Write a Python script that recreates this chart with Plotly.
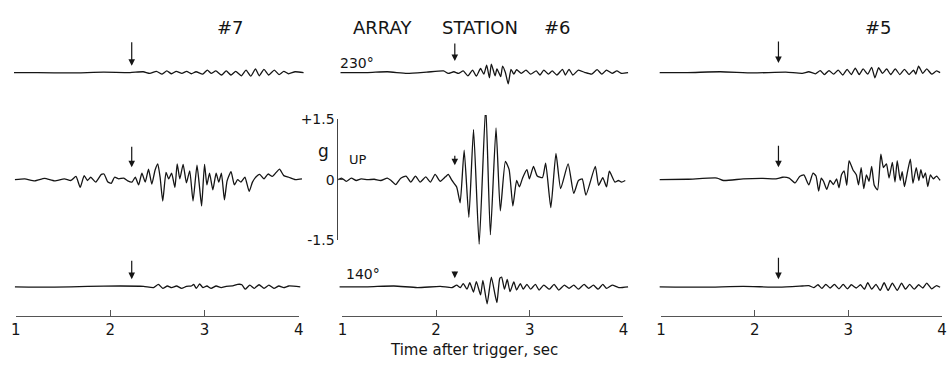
import plotly.graph_objects as go

# ---------------------------------------------------------------
# Accelerograms, three array stations (#7, #6, #5), three components
# each: horizontal 230 deg, vertical (UP), horizontal 140 deg.
# Times in seconds after trigger, amplitudes in g.
# ---------------------------------------------------------------

stations = ["#7", "#6", "#5"]
components = ["230°", "UP", "140°"]
time_ticks = [1, 2, 3, 4]
time_tick_labels = ["1", "2", "3", "4"]
amp_ticks = [-1.5, 0, 1.5]
amp_tick_labels = ["-1.5", "0", "+1.5"]

# arrival picks (s)
arrival = [2.228, 2.20, 2.254]

# ---- station #7 ----
st7_230_t = [0.98, 1.23, 1.58, 1.93, 2.21, 2.35, 2.42, 2.49, 2.55, 2.60,
             2.65, 2.70, 2.76, 2.81, 2.86, 2.91, 2.98, 3.03, 3.07, 3.12,
             3.18, 3.23, 3.28, 3.33, 3.39, 3.44, 3.49, 3.54, 3.58, 3.63,
             3.68, 3.74, 3.79, 3.84, 3.89, 3.96, 4.05]
st7_230_g = [0, 0, -0.01, 0.01, 0, 0.02, -0.02, 0.03, -0.04, 0.04,
             -0.03, 0.03, -0.02, 0.03, -0.03, 0.02, -0.04, 0.06, -0.02, 0.04,
             -0.06, 0.04, -0.06, 0.03, -0.08, 0.06, -0.09, 0.09, -0.08, 0.08,
             -0.06, 0.06, -0.05, 0.03, -0.03, 0.02, 0]

st7_up_t = [0.99, 1.094, 1.20, 1.304, 1.41, 1.514, 1.584, 1.637, 1.682, 1.724,
            1.759, 1.794, 1.847, 1.906, 1.934, 1.976, 2.011, 2.046, 2.091, 2.144,
            2.186, 2.231, 2.266, 2.301, 2.336, 2.371, 2.406, 2.441, 2.476, 2.504,
            2.529, 2.557, 2.592, 2.62, 2.651, 2.686, 2.71, 2.738, 2.773, 2.808,
            2.843, 2.878, 2.92, 2.948, 2.969, 3.0, 3.025, 3.053, 3.088, 3.123,
            3.151, 3.179, 3.211, 3.239, 3.281, 3.316, 3.351, 3.386, 3.428, 3.473,
            3.508, 3.55, 3.585, 3.631, 3.673, 3.718, 3.76, 3.795, 3.84, 3.893,
            3.963, 4.033]
st7_up_g = [0, 0.02, -0.03, 0.03, -0.03, 0.02, -0.02, 0.08, -0.19, 0.10,
            -0.02, 0.06, -0.06, 0.13, 0.14, -0.06, -0.09, 0.06, 0.02, 0.04,
            -0.03, -0.06, 0.06, -0.13, 0.16, -0.06, 0.26, -0.11, 0.24, 0.39,
            0.06, -0.53, 0.18, 0.02, 0.16, -0.19, 0.39, 0.02, 0.38, -0.08,
            0.22, -0.53, 0.36, -0.21, -0.65, 0.38, -0.13, 0.16, -0.25, 0.16,
            -0.06, 0.16, -0.50, -0.03, 0.20, -0.13, 0, -0.06, 0.06, -0.29,
            -0.06, 0.08, 0.13, 0.02, 0.14, 0.08, 0.18, 0.26, 0.10, 0.06,
            0, 0.02]

st7_140_t = [0.99, 1.41, 1.759, 2.109, 2.354, 2.459, 2.511, 2.557, 2.606, 2.651,
             2.703, 2.756, 2.808, 2.861, 2.885, 2.913, 2.948, 2.983, 3.025, 3.07,
             3.123, 3.176, 3.228, 3.298, 3.351, 3.396, 3.431, 3.48, 3.526, 3.578,
             3.631, 3.683, 3.736, 3.788, 3.84, 3.893, 4.015]
st7_140_g = [0, -0.01, 0.01, 0.02, 0.01, -0.02, 0.06, -0.04, 0.02, -0.02,
             0.02, -0.04, 0.01, 0.02, 0.06, -0.04, 0.07, -0.02, 0.02, -0.04,
             0.02, -0.02, 0.01, 0.02, 0.06, 0.05, -0.06, 0.04, -0.04, 0.05,
             -0.04, 0.04, -0.04, 0.02, -0.02, 0.02, 0]

# ---- station #6 ----
st6_230_t = [0.98, 1.27, 1.48, 1.69, 1.90, 2.08, 2.13, 2.19, 2.24, 2.29,
             2.34, 2.39, 2.43, 2.475, 2.51, 2.54, 2.57, 2.59, 2.63, 2.65,
             2.69, 2.71, 2.74, 2.77, 2.80, 2.83, 2.86, 2.91, 2.96, 3.01,
             3.07, 3.11, 3.15, 3.20, 3.24, 3.29, 3.35, 3.38, 3.42, 3.46,
             3.52, 3.59, 3.66, 3.72, 3.77, 3.82, 3.88, 3.93, 3.98, 4.05]
st6_230_g = [0, 0, 0.02, -0.02, 0.01, 0.04, -0.02, 0.02, -0.02, 0.04,
             -0.08, 0.06, -0.09, 0.10, -0.04, 0.18, -0.13, 0.21, -0.08, 0.09,
             -0.10, 0.16, 0, -0.28, 0.08, -0.04, 0.07, -0.02, 0.06, -0.04,
             0.04, -0.06, 0.06, -0.04, 0.04, -0.06, 0.08, -0.06, 0.08, -0.06,
             0.06, 0, -0.04, 0.07, -0.04, 0.06, -0.02, 0.04, -0.02, 0]

st6_up_t = [0.955, 0.99, 1.042, 1.095, 1.148, 1.20, 1.27, 1.34, 1.41, 1.48,
            1.52, 1.57, 1.62, 1.68, 1.73, 1.78, 1.83, 1.89, 1.94, 1.99,
            2.045, 2.10, 2.13, 2.17, 2.22, 2.257, 2.30, 2.35, 2.40, 2.46,
            2.53, 2.58, 2.64, 2.686, 2.74, 2.78, 2.82, 2.86, 2.89, 2.925,
            2.97, 2.996, 3.04, 3.08, 3.136, 3.17, 3.225, 3.28, 3.33, 3.41,
            3.47, 3.52, 3.56, 3.60, 3.70, 3.735, 3.78, 3.82, 3.85, 3.91,
            3.946, 3.98, 4.02]
st6_up_g = [0, 0.04, -0.04, 0.04, -0.02, 0.02, 0, 0.01, -0.02, 0.04,
            -0.02, -0.12, 0.03, 0.09, -0.06, 0.09, -0.06, 0.07, -0.06, 0.13,
            -0.04, 0.07, 0.13, -0.02, -0.18, -0.57, 0.73, -0.93, 1.24, -1.60,
            1.83, -1.36, 1.28, -0.77, 0.45, 0.25, -0.65, -0.02, -0.18, 0.05,
            0.25, 0.02, 0.33, 0.09, 0.05, 0.41, -0.69, 0.65, -0.22, 0.39,
            -0.34, -0.02, 0.02, -0.38, 0.33, -0.14, 0.05, -0.18, 0.21, -0.06,
            -0.02, -0.06, -0.02]

st6_140_t = [0.97, 1.27, 1.55, 1.80, 2.045, 2.17, 2.22, 2.26, 2.29, 2.33,
             2.36, 2.40, 2.43, 2.475, 2.50, 2.545, 2.59, 2.63, 2.65, 2.68,
             2.70, 2.73, 2.76, 2.79, 2.83, 2.86, 2.90, 2.93, 2.97, 3.01,
             3.06, 3.10, 3.15, 3.21, 3.26, 3.31, 3.37, 3.42, 3.47, 3.52,
             3.58, 3.63, 3.68, 3.73, 3.78, 3.82, 3.88, 3.95, 4.05]
st6_140_g = [0, 0, 0.02, -0.02, 0.01, -0.02, 0.04, -0.02, 0.08, -0.06,
             0.10, -0.13, 0.13, -0.20, 0.16, -0.42, 0.24, -0.20, -0.39, 0.21,
             0.24, -0.06, 0.18, -0.12, 0.12, -0.08, 0.08, -0.06, 0.06, -0.06,
             0.06, -0.08, 0.04, -0.06, 0.06, -0.08, 0.04, -0.04, 0.04, -0.06,
             0.06, -0.04, 0.04, -0.06, 0.06, -0.04, 0.04, -0.02, 0]

# ---- station #5 ----
st5_230_t = [0.986, 1.283, 1.633, 1.983, 2.333, 2.508, 2.578, 2.648, 2.70, 2.745,
             2.794, 2.843, 2.892, 2.941, 2.987, 3.032, 3.074, 3.116, 3.158, 3.207,
             3.249, 3.284, 3.323, 3.365, 3.41, 3.452, 3.501, 3.55, 3.599, 3.648,
             3.697, 3.72, 3.75, 3.795, 3.837, 3.89, 3.942, 3.98]
st5_230_g = [0, 0, 0.02, -0.01, 0.01, -0.02, 0.02, -0.03, 0.05, -0.05,
             0.05, -0.04, 0.06, -0.06, 0.08, -0.05, 0.11, -0.05, 0.09, -0.04,
             0.13, -0.13, 0.12, -0.02, 0.09, -0.05, 0.09, -0.05, 0.08, -0.05,
             0.06, -0.04, 0.16, -0.02, 0.09, -0.04, 0.04, 0]

st5_up_t = [0.986, 1.283, 1.598, 1.668, 1.878, 2.088, 2.228, 2.298, 2.368, 2.431,
            2.48, 2.525, 2.578, 2.623, 2.655, 2.683, 2.711, 2.735, 2.77, 2.805,
            2.84, 2.875, 2.9, 2.927, 2.955, 2.983, 3.008, 3.05, 3.085, 3.109,
            3.137, 3.165, 3.193, 3.221, 3.249, 3.277, 3.312, 3.347, 3.375, 3.407,
            3.435, 3.47, 3.498, 3.522, 3.554, 3.575, 3.599, 3.627, 3.662, 3.69,
            3.725, 3.753, 3.774, 3.798, 3.823, 3.848, 3.876, 3.907, 3.942, 3.98]
st5_up_g = [0, 0.01, 0.04, -0.02, 0.02, 0.03, 0.02, 0.06, 0.04, -0.08,
            0.08, 0.12, -0.13, 0.16, 0.09, -0.28, 0.04, -0.04, -0.24, -0.02,
            -0.12, 0.02, -0.20, 0.12, 0.22, -0.14, 0.47, 0.24, 0.12, -0.13,
            0.30, -0.22, 0.12, -0.04, 0.33, -0.14, -0.25, 0.63, 0.30, 0.39,
            0.04, 0.43, -0.06, 0.47, -0.02, 0.20, -0.17, 0.14, 0.51, -0.09,
            0.30, -0.02, 0.25, 0.04, 0.17, -0.17, 0.12, 0.02, 0.09, -0.02]

st5_140_t = [0.986, 1.458, 1.878, 2.263, 2.508, 2.578, 2.63, 2.676, 2.718, 2.76,
             2.805, 2.851, 2.9, 2.945, 2.99, 3.032, 3.085, 3.13, 3.172, 3.207,
             3.249, 3.295, 3.34, 3.382, 3.424, 3.47, 3.522, 3.568, 3.61, 3.655,
             3.704, 3.75, 3.795, 3.837, 3.89, 3.942, 3.98]
st5_140_g = [0, -0.01, 0.01, -0.01, 0.02, 0.03, -0.02, 0.05, -0.04, 0.06,
             -0.03, 0.06, -0.05, 0.06, -0.05, 0.05, -0.03, 0.05, -0.06, 0.10,
             -0.06, 0.06, -0.09, 0.10, -0.09, 0.09, -0.09, 0.09, -0.06, 0.06,
             -0.06, 0.05, -0.03, 0.09, -0.05, 0.03, -0.01]

records = [
    [(st7_230_t, st7_230_g), (st7_up_t, st7_up_g), (st7_140_t, st7_140_g)],
    [(st6_230_t, st6_230_g), (st6_up_t, st6_up_g), (st6_140_t, st6_140_g)],
    [(st5_230_t, st5_230_g), (st5_up_t, st5_up_g), (st5_140_t, st5_140_g)],
]

# ---------------------------------------------------------------
# page geometry (pixels)
# ---------------------------------------------------------------
W, H = 947, 367
PX_PER_G = 42.3
col_span = [(11, 297), (341, 625), (663, 947)]   # 1 s .. 4 s
row_base = [67.5, 179.5, 291.5]                   # zero line of each row
row_half = [1.0, 1.6, 1.0]                        # half range (g) of each row axis
time_axis_y = 322
pad = 8

INK = "#151515"
FONT = "DejaVu Sans"


def px_x(v):
    return v / W


def px_y(v):
    return 1 - v / H


fig = go.Figure()
layout = dict(
    width=W, height=H,
    margin=dict(l=0, r=0, t=0, b=0),
    paper_bgcolor="white", plot_bgcolor="rgba(0,0,0,0)",
    showlegend=False,
    font=dict(family=FONT, color=INK),
)

hidden = dict(visible=False, showgrid=False, zeroline=False, anchor="free")

# data axes (one time axis per station, one amplitude axis per component row)
for c, (x0, x1) in enumerate(col_span):
    s = (x1 - x0) / 3.0
    right = min(x1 + pad, W)
    layout[f"xaxis{c + 1}"] = dict(
        hidden, domain=[px_x(x0 - pad), px_x(right)],
        range=[1 - pad / s, 4 + (right - x1) / s], position=0)
    # visible time scale under each station
    layout[f"xaxis{c + 4}"] = dict(
        domain=[px_x(x0), px_x(x1)], range=[1, 4], anchor="free",
        position=px_y(time_axis_y), showline=True, linecolor="#555",
        linewidth=1, ticks="inside", ticklen=6, tickcolor="#555",
        tickvals=time_ticks, ticktext=time_tick_labels,
        ticklabeloverflow="allow",
        tickfont=dict(size=15, color=INK), showgrid=False, zeroline=False)

for r in range(3):
    h = row_half[r]
    b = row_base[r]
    layout[f"yaxis{r + 1}"] = dict(
        hidden, domain=[px_y(b + h * PX_PER_G), px_y(b - h * PX_PER_G)],
        range=[-h, h], position=0)

# amplitude scale beside the vertical record of station #6
layout["yaxis4"] = dict(
    domain=[px_y(row_base[1] + 1.5 * PX_PER_G), px_y(row_base[1] - 1.5 * PX_PER_G)],
    range=[-1.5, 1.5], anchor="free", position=px_x(336),
    showline=True, linecolor="#444", linewidth=1,
    ticks="inside", ticklen=5, tickcolor="#444",
    tickvals=amp_ticks, ticktext=amp_tick_labels,
    tickfont=dict(size=14, color=INK), showgrid=False, zeroline=False)

for c in range(3):
    for r in range(3):
        t, g = records[c][r]
        fig.add_trace(go.Scatter(
            x=t, y=g, mode="lines", xaxis=f"x{c + 1}", yaxis=f"y{r + 1}",
            line=dict(color=INK, width=1.3, shape="spline", smoothing=0.5),
            hoverinfo="skip"))
    # carrier for the time scale axis
    fig.add_trace(go.Scatter(x=[None], y=[None], xaxis=f"x{c + 4}", yaxis="y3",
                             mode="lines", hoverinfo="skip"))
fig.add_trace(go.Scatter(x=[None], y=[None], xaxis="x2", yaxis="y4",
                         mode="lines", hoverinfo="skip"))

ann = []


def label(text, x, y, size, **kw):
    ann.append(dict(text=text, x=px_x(x), y=px_y(y), xref="paper", yref="paper",
                    showarrow=False, font=dict(size=size, color=INK, family=FONT),
                    xanchor="center", yanchor="middle", **kw))


# station headings
label("#7", 228, 20, 18)
label("ARRAY", 382, 20, 18)
label("STATION", 480, 20, 18)
label(stations[1], 558, 20, 18)
label(stations[2], 883, 20, 18)

# component labels on station #6
label(components[0], 356, 57, 14)
label(components[2], 362, 278, 14)
label("g", 322, 149, 17)
label(components[1], 357, 158, 13)

label("Time after trigger, sec", 474, 358, 15)

# arrival arrows: (tip height above zero line, shaft length) in px
arrow_geom = [
    [(7, 25), (13, 22), (8, 20)],
    [(12, 19), (15, 11), (9, 8)],
    [(10, 23), (13, 23), (8, 23)],
]
for c in range(3):
    for r in range(3):
        tip, length = arrow_geom[c][r]
        ann.append(dict(
            text="", x=arrival[c], y=tip / PX_PER_G,
            xref=f"x{c + 1}", yref=f"y{r + 1}",
            showarrow=True, ax=0, ay=-length, axref="pixel", ayref="pixel",
            arrowhead=2, arrowsize=1.1, arrowwidth=1.2, arrowcolor=INK,
            standoff=0))

layout["annotations"] = ann
fig.update_layout(**layout)
fig.write_html("out.html")
